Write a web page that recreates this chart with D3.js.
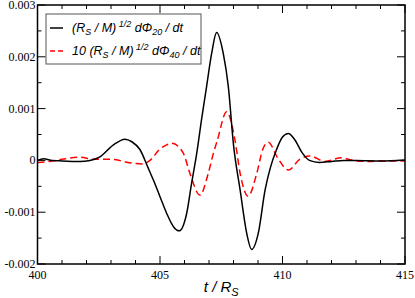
<!DOCTYPE html>
<html>
<head>
<meta charset="utf-8">
<script src="https://cdn.jsdelivr.net/npm/d3@7"></script>
<style>
  body { margin: 0; background: #fff; }
  svg { display: block; }
</style>
</head>
<body>
<div id="chart-area"></div>
<script>
// t / R_S knots and curve values
var t20 = [400.0, 400.25, 400.6, 401.0, 401.73, 402.14, 402.55, 403.1, 403.57, 403.85, 404.18, 404.52,
  404.73, 405.0, 405.27, 405.55, 405.78, 406.09, 406.29, 406.5, 406.7, 406.9, 407.11, 407.31,
  407.58, 407.79, 408.0, 408.27, 408.54, 408.74, 409.01, 409.29, 409.5, 409.75, 410.0, 410.24,
  410.5, 410.8, 411.1, 411.5, 412.0, 412.5, 413.0, 414.0, 415.0];
var phi20 = [0.0, 0.00003, 0.0, -0.00001, -0.00002, 0.0, 0.00007, 0.0003, 0.00041, 0.00036, 0.00021, -0.00015,
  -0.00038, -0.0007, -0.00102, -0.00128, -0.00136, -0.00102, -0.00044, 0.00014, 0.0008, 0.00142, 0.00207, 0.00247,
  0.00207, 0.00142, 0.0003, -0.00057, -0.00141, -0.00172, -0.00141, -0.00057, -0.00015, 0.0002, 0.00045, 0.00052,
  0.0004, 0.00015, 0.0, -0.00004, -0.00002, 0.0, 0.0, -0.00001, 0.00001];

var t40 = [400.0, 400.5, 401.0, 401.73, 402.3, 403.1, 403.5, 403.98, 404.3, 404.59, 405.0, 405.27,
  405.48, 405.95, 406.22, 406.63, 406.97, 407.18, 407.34, 407.72, 408.06, 408.27, 408.6, 408.95,
  409.2, 409.42, 409.8, 410.24, 410.7, 411.12, 411.73, 412.4, 413.0, 413.5, 414.0, 415.0];
var phi40 = [-0.00004, -0.00002, 0.00002, 0.00006, 0.00002, 0.00002, -0.00002, -0.00006, -0.00007, 0.0, 0.00022, 0.0003,
  0.00033, 0.00014, -0.00025, -0.00067, -0.00025, 0.00014, 0.00039, 0.00094, 0.00039, -0.00025, -0.00069, -0.00025,
  0.00022, 0.00035, 0.00005, -0.000185, 0.00002, 0.000085, -0.00002, 0.00005, -0.00001, -0.00002, -0.00001, -0.00001];

var xTicks = [400, 405, 410, 415];
var yTicks = [-0.002, -0.001, 0, 0.001, 0.002, 0.003];
var yTickLabels = ["-0.002", "-0.001", "0", "0.001", "0.002", "0.003"];

var W = 415, H = 298;
var margin = { left: 37.5, right: 10, top: 5, bottom: 34 };
var width = W - margin.left - margin.right;
var height = H - margin.top - margin.bottom;

var svg = d3.select("#chart-area").append("svg")
  .attr("width", W).attr("height", H);

var g = svg.append("g")
  .attr("transform", "translate(" + margin.left + "," + margin.top + ")");

var xscale = d3.scaleLinear().domain([400, 415]).range([0, width]);
var yscale = d3.scaleLinear().domain([-0.002, 0.003]).range([height, 0]);

var serif = "'Liberation Serif', 'Times New Roman', serif";
var sans = "'Liberation Sans', Arial, sans-serif";

// clip to plot area
g.append("clipPath").attr("id", "clip")
  .append("rect").attr("width", width).attr("height", height);

var line = d3.line()
  .x(function (d) { return xscale(d[0]); })
  .y(function (d) { return yscale(d[1]); })
  .curve(d3.curveMonotoneX);

var data20 = t20.map(function (t, i) { return [t, phi20[i]]; });
var data40 = t40.map(function (t, i) { return [t, phi40[i]]; });

var plot = g.append("g").attr("clip-path", "url(#clip)");
plot.append("path").datum(data40)
  .attr("d", line)
  .attr("fill", "none")
  .attr("stroke", "#ff0000")
  .attr("stroke-width", 1.5)
  .attr("stroke-dasharray", "7,4");
plot.append("path").datum(data20)
  .attr("d", line)
  .attr("fill", "none")
  .attr("stroke", "#000")
  .attr("stroke-width", 1.5);

// ticks, inward on all four sides
var minorX = d3.range(400, 415.01, 1);
var minorY = d3.range(-0.002, 0.00301, 0.0005);
function isMajorX(v) { return Math.abs(v % 5) < 1e-9; }
function isMajorY(v) { return Math.abs(Math.round(v * 1000) - v * 1000) < 1e-6; }

var tickG = g.append("g").attr("stroke", "#000").attr("stroke-width", 1);
minorX.forEach(function (v) {
  var len = isMajorX(v) ? 8 : 4;
  var x = xscale(v);
  tickG.append("line").attr("x1", x).attr("x2", x).attr("y1", height).attr("y2", height - len);
  tickG.append("line").attr("x1", x).attr("x2", x).attr("y1", 0).attr("y2", len);
});
minorY.forEach(function (v) {
  var len = isMajorY(v) ? 8 : 4;
  var y = yscale(v);
  tickG.append("line").attr("x1", 0).attr("x2", len).attr("y1", y).attr("y2", y);
  tickG.append("line").attr("x1", width).attr("x2", width - len).attr("y1", y).attr("y2", y);
});

g.append("rect")
  .attr("width", width).attr("height", height)
  .attr("fill", "none").attr("stroke", "#000").attr("stroke-width", 1.5);

// tick labels
g.selectAll(".xlab").data(xTicks).enter().append("text")
  .attr("x", function (d) { return xscale(d); })
  .attr("y", height + 15)
  .attr("text-anchor", "middle")
  .attr("font-family", serif)
  .attr("font-size", "12px")
  .text(function (d) { return d; });

g.selectAll(".ylab").data(yTicks).enter().append("text")
  .attr("x", -2)
  .attr("y", function (d) { return yscale(d) + 4; })
  .attr("text-anchor", "end")
  .attr("font-family", serif)
  .attr("font-size", "12px")
  .text(function (d, i) { return yTickLabels[i]; });

// x axis title
var xt = g.append("text")
  .attr("x", width / 2)
  .attr("y", height + 28)
  .attr("text-anchor", "middle")
  .attr("font-family", sans)
  .attr("font-style", "italic")
  .attr("font-size", "15px");
xt.append("tspan").text("t / R");
xt.append("tspan").attr("dy", 4).attr("font-size", "11px").text("S");

// legend
var lg = svg.append("g").attr("transform", "translate(46,14)");
lg.append("rect").attr("width", 155).attr("height", 50)
  .attr("fill", "#fff").attr("stroke", "#555").attr("stroke-width", 1);

function legendText(sel, prefix, sub) {
  var t = sel.append("text")
    .attr("font-family", sans)
    .attr("font-style", "italic")
    .attr("font-size", "12.5px");
  t.append("tspan").text(prefix + "(R");
  t.append("tspan").attr("dy", 3).attr("font-size", "9px").text("S");
  t.append("tspan").attr("dy", -3).text(" / M)");
  t.append("tspan").attr("dy", -5).attr("font-size", "9px").text(" 1/2");
  t.append("tspan").attr("dy", 5).text(" d\u03a6");
  t.append("tspan").attr("dy", 3).attr("font-size", "9px").text(sub);
  t.append("tspan").attr("dy", -3).text(" / dt");
  return t;
}

var row1 = lg.append("g").attr("transform", "translate(0,14)");
row1.append("line").attr("x1", 4).attr("x2", 17).attr("y1", 0).attr("y2", 0)
  .attr("stroke", "#000").attr("stroke-width", 1.5);
legendText(row1, "", "20").attr("x", 26).attr("y", 4);

var row2 = lg.append("g").attr("transform", "translate(0,37)");
row2.append("line").attr("x1", 4).attr("x2", 17).attr("y1", 0).attr("y2", 0)
  .attr("stroke", "#ff0000").attr("stroke-width", 1.5).attr("stroke-dasharray", "5,3");
legendText(row2, "10 ", "40").attr("x", 26).attr("y", 4);
</script>
</body>
</html>
